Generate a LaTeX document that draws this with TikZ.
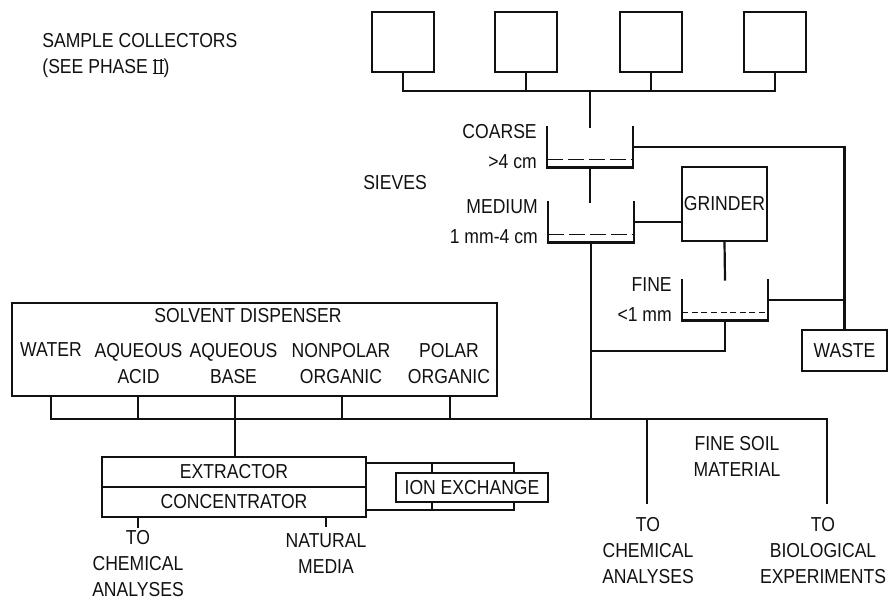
\documentclass[tikz,border=0pt]{standalone}
\usepackage{fontspec}
\setmainfont{Liberation Sans}[FakeStretch=0.87]
\usetikzlibrary{positioning, calc}
\definecolor{inkline}{HTML}{111111}
\definecolor{paperbg}{HTML}{FFFFFF}
\newcommand{\lettering}{\fontsize{10.1}{13}\selectfont}
% roman two with bars, as in the lettering
\newcommand{\romtwo}{{\setbox0\hbox{I\kern0.6pt I}\rlap{\rule{\wd0}{0.55pt}}\rlap{\raisebox{\dimexpr\ht0-0.55pt}{\rule{\wd0}{0.55pt}}}\box0}}
\tikzstyle{pipe} = [line width=1.1pt, draw=inkline, line cap=rect]
\tikzstyle{box} = [draw=inkline, line width=1.1pt, fill=paperbg, inner sep=0pt, text=inkline, font=\lettering]
\tikzstyle{collector} = [box, minimum width=31pt, minimum height=30pt]
\tikzstyle{sieve} = [inner sep=0pt, minimum width=42.5pt, minimum height=20pt]
\tikzstyle{lbl} = [inner sep=0pt, text=inkline, font=\lettering, align=center]
\tikzstyle{mesh} = [line width=0.9pt, draw=inkline, dash pattern=on 8pt off 2.5pt]
\tikzstyle{finemesh} = [mesh, dash pattern=on 3pt off 1.8pt]

\begin{document}
\begin{tikzpicture}[x=0.5pt, y=-0.5pt]
    \useasboundingbox (0,0) rectangle (893,602);

    % sample collectors
    \foreach \i/\x in {1/403, 2/526, 3/651, 4/775}
        \node[collector] (col\i) at (\x,42) {};
    \node[lbl, align=left, anchor=west] (collabel) at (42,56) {SAMPLE COLLECTORS\\(SEE PHASE \romtwo)};
    \coordinate (bus) at (590,91);
    \draw[pipe] (col1.south) |- (bus) -| (col4.south);
    \foreach \i in {2,3}
        \draw[pipe] (col\i.south) -- (col\i.south |- bus);

    % sieves
    \node[sieve] (coarse) at (590,147) {};
    \node[sieve] (medium) at (591,222) {};
    \node[sieve] (fine) at (725,300) {};
    \foreach \s/\m in {coarse/mesh, medium/mesh, fine/finemesh} {
        \draw[pipe] (\s.north west) |- (\s.south east) -- (\s.north east);
        \draw[\m] ([yshift=4pt]\s.south west) -- ([yshift=4pt]\s.south east);
    }
    \node[lbl, align=right, left=5pt of coarse.west] (coarselbl) {COARSE\\[2pt]>4 cm};
    \node[lbl, align=right, left=5pt of medium.west] (mediumlbl) {MEDIUM\\[2pt]1 mm-4 cm};
    \node[lbl, align=right, left=5pt of fine.west] (finelbl) {FINE\\[2pt]<1 mm};
    \node[lbl] (sieves) at (395,183) {SIEVES};

    \node[box, minimum width=42.5pt, minimum height=37pt] (grinder) at (724.5,204) {GRINDER};
    \node[box, minimum width=42.5pt, minimum height=20.5pt] (waste) at (844.5,350.5) {WASTE};

    \draw[pipe] (bus) -- (coarse.north);
    \draw[pipe] (coarse.south) -- (coarse.south |- medium.north);
    \draw[pipe] (medium.east) -- (medium.east -| grinder.west);
    \draw[pipe] (grinder.south) -- (fine.north);
    \draw[pipe] (coarse.east) -| (waste.north);
    \draw[pipe] (fine.east) -- (fine.east -| waste.north);

    \coordinate (trunk) at (591,419);
    \coordinate (finejoin) at (591,351);
    \draw[pipe] (medium.south) -- (trunk);
    \draw[pipe] (fine.south) |- (finejoin);

    % solvent dispenser
    \node[box, minimum width=242.5pt, minimum height=46.5pt] (solvent) at (254.5,349.5) {};
    \node[lbl] (soltitle) at (248,316) {SOLVENT DISPENSER};
    \node[lbl] (water) at (51,350) {WATER};
    \node[lbl] (acid) at (138.5,363.5) {AQUEOUS\\ACID};
    \node[lbl] (base) at (233.5,363.5) {AQUEOUS\\BASE};
    \node[lbl] (nonpolar) at (341,363.5) {NONPOLAR\\ORGANIC};
    \node[lbl] (polar) at (449,363.5) {POLAR\\ORGANIC};
    \foreach \n/\x in {w/51, a/138, b/235, n/342, p/450} {
        \coordinate (tap\n) at (\x,419);
        \draw[pipe] (tap\n) -- (tap\n |- solvent.south);
    }
    \coordinate (tapchem) at (647,419);
    \coordinate (tapbio) at (827,419);
    \draw[pipe] (tapw) -- (tapbio);

    % extractor and ion exchange
    \node[box, minimum width=132pt, minimum height=15pt] (ext) at (234,472) {EXTRACTOR};
    \node[box, minimum width=132pt, minimum height=15pt] (conc) at (234,502) {CONCENTRATOR};
    \draw[pipe] (tapb) -- (tapb |- ext.north);
    \coordinate (ixtick) at (432,463);
    \coordinate (ixcorner) at (514,510);
    \draw[pipe] (ext.east |- ixtick) -| (ixcorner) -- (conc.east |- ixcorner);
    \draw[pipe] (ixtick) -- (ixtick |- ixcorner);
    \node[box, minimum width=76pt, minimum height=14.5pt] (ion) at (472,487.5) {ION EXCHANGE};

    % outlets
    \node[lbl] (chemleft) at (138,564) {TO\\CHEMICAL\\ANALYSES};
    \node[lbl] (natural) at (326,554) {NATURAL\\MEDIA};
    \draw[pipe, shorten >=2pt] (conc.south -| chemleft.north) -- (chemleft.north);
    \draw[pipe, shorten >=4pt] (conc.south -| natural.north) -- (natural.north);

    \node[lbl] (fsoil) at (737,456) {FINE SOIL\\MATERIAL};
    \node[lbl] (chemright) at (648,551) {TO\\CHEMICAL\\ANALYSES};
    \node[lbl] (bio) at (823,551) {TO\\BIOLOGICAL\\EXPERIMENTS};
    \draw[pipe, shorten >=7.5pt] (tapchem) -- (tapchem |- chemright.north);
    \draw[pipe, shorten >=7.5pt] (tapbio) -- (tapbio |- bio.north);
\end{tikzpicture}
\end{document}
